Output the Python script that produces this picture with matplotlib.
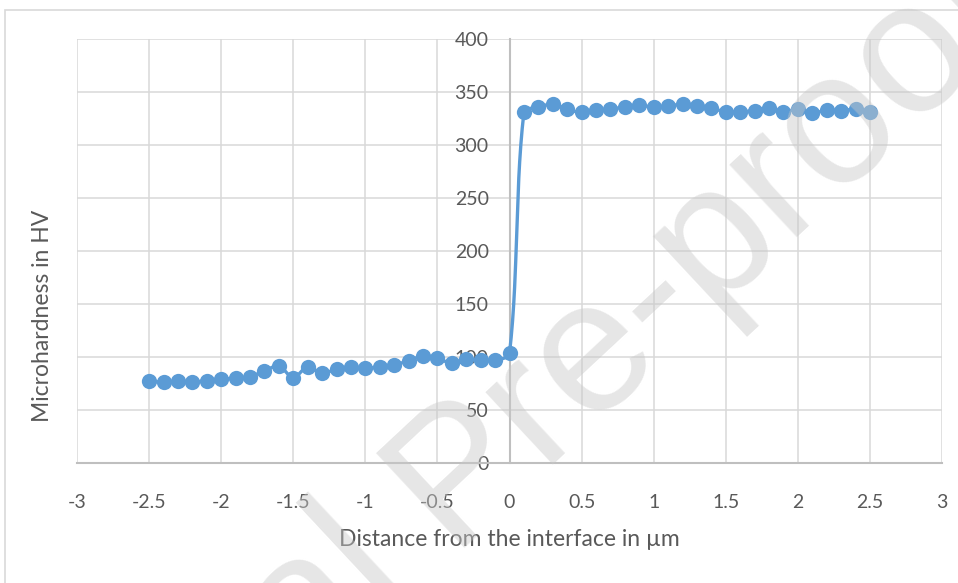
import numpy as np
import matplotlib
matplotlib.use("Agg")
import matplotlib.pyplot as plt
from matplotlib.patches import Rectangle

# Measured microhardness profile across the interface
distance_um = [round(-2.5 + 0.1 * i, 1) for i in range(51)]
hardness_hv = [
    77.6, 76.1, 76.9, 76.7, 77.4, 79.0, 79.9, 81.4, 87.0, 91.5,
    80.5, 90.8, 84.6, 88.7, 90.3, 89.2, 90.8, 92.5, 96.5, 101.0,
    98.8, 94.0, 98.0, 97.0, 97.0, 103.5,
    330.8, 335.6, 338.7, 333.7, 330.8, 333.0, 333.7, 336.1, 337.7, 335.6,
    337.0, 338.4, 336.8, 334.6, 331.4, 331.4, 332.5, 335.2, 331.4, 333.7,
    330.0, 333.0, 332.5, 333.7, 330.8,
]
x_ticks = [-3, -2.5, -2, -1.5, -1, -0.5, 0, 0.5, 1, 1.5, 2, 2.5, 3]
y_ticks = [0, 50, 100, 150, 200, 250, 300, 350, 400]

BLUE = "#5B9BD5"
GRID = "#D9D9D9"
AXIS = "#BFBFBF"
TEXT = "#595959"
plt.rcParams["font.family"] = ["Lato", "DejaVu Sans"]


def smooth_curve(ax, xs, ys, n=30):
    """Bezier-smoothed line whose control points are weighted by the
    on-screen length of neighbouring segments (avoids overshoot)."""
    pts = ax.transData.transform(np.column_stack([xs, ys]))
    m = len(pts)
    out = [pts[0]]
    for i in range(m - 1):
        p1, p2 = pts[i], pts[i + 1]
        p0 = pts[i - 1] if i > 0 else p1
        p3 = pts[i + 2] if i + 2 < m else p2
        d01 = np.linalg.norm(p1 - p0)
        d12 = np.linalg.norm(p2 - p1)
        d23 = np.linalg.norm(p3 - p2)
        w1 = d12 / (d01 + d12) if d01 + d12 > 0 else 0.5
        w2 = d12 / (d12 + d23) if d12 + d23 > 0 else 0.5
        c1 = p1 + (p2 - p0) * w1 / 3.0
        c2 = p2 - (p3 - p1) * w2 / 3.0
        t = np.linspace(0, 1, n)[1:, None]
        seg = ((1 - t) ** 3) * p1 + 3 * ((1 - t) ** 2) * t * c1 \
            + 3 * (1 - t) * t ** 2 * c2 + t ** 3 * p2
        out.extend(seg)
    out = np.array(out)
    data = ax.transData.inverted().transform(out)
    return data[:, 0], data[:, 1]


fig = plt.figure(figsize=(9.58, 5.83), dpi=100)
fig.patch.set_facecolor("white")

# outer chart border
fig.patches.append(Rectangle((5 / 958, -0.05), 1.05, 1 - 10 / 583 + 0.05,
                             transform=fig.transFigure, fill=False,
                             edgecolor=GRID, linewidth=1.2, zorder=0))

ax = fig.add_axes([77 / 958, 1 - 463 / 583, (942 - 77) / 958, (463 - 39) / 583])
ax.set_xlim(-3, 3)
ax.set_ylim(0, 400)
ax.set_xticks(x_ticks)
ax.set_yticks(y_ticks)
ax.set_xticklabels([f"{v:g}" for v in x_ticks])
ax.set_yticklabels([f"{v:g}" for v in y_ticks])

ax.grid(True, color=GRID, linewidth=1.1, zorder=0)
ax.set_axisbelow(True)
for s in ("top", "right"):
    ax.spines[s].set_visible(False)
ax.spines["left"].set_position(("data", 0))
for s in ("left", "bottom"):
    ax.spines[s].set_color(AXIS)
    ax.spines[s].set_linewidth(1.5)
    ax.spines[s].set_zorder(1)

ax.tick_params(axis="both", length=0, labelsize=14, labelcolor=TEXT)
ax.tick_params(axis="x", pad=22)
ax.tick_params(axis="y", pad=15)

sx, sy = smooth_curve(ax, distance_um, hardness_hv)
ax.plot(sx, sy, color=BLUE, linewidth=2.4, zorder=3, solid_capstyle="round")
ax.plot(distance_um, hardness_hv, linestyle="none", marker="o", markersize=11,
        color=BLUE, markeredgewidth=0, zorder=4)

fig.text(509 / 958, 1 - 540 / 583, "Distance from the interface in µm",
         ha="center", va="center", fontsize=16.5, color=TEXT)
fig.text(43 / 958, 1 - 316 / 583, "Microhardness in HV", rotation=90,
         ha="center", va="center", fontsize=16.5, color=TEXT)

# diagonal watermark, anchored at the start of "Pre-proof"
wm = dict(rotation=43, rotation_mode="anchor", va="baseline", fontsize=135,
          family="Liberation Sans", color="#c8c8c8", alpha=0.45, zorder=10)
ax_x, ax_y = 449 / 958, 1 - 547 / 583
fig.text(ax_x, ax_y, "Pre-proof", ha="left", **wm)
fig.text(ax_x, ax_y, "Journal ", ha="right", **wm)

fig.savefig("out.png", dpi=100)
